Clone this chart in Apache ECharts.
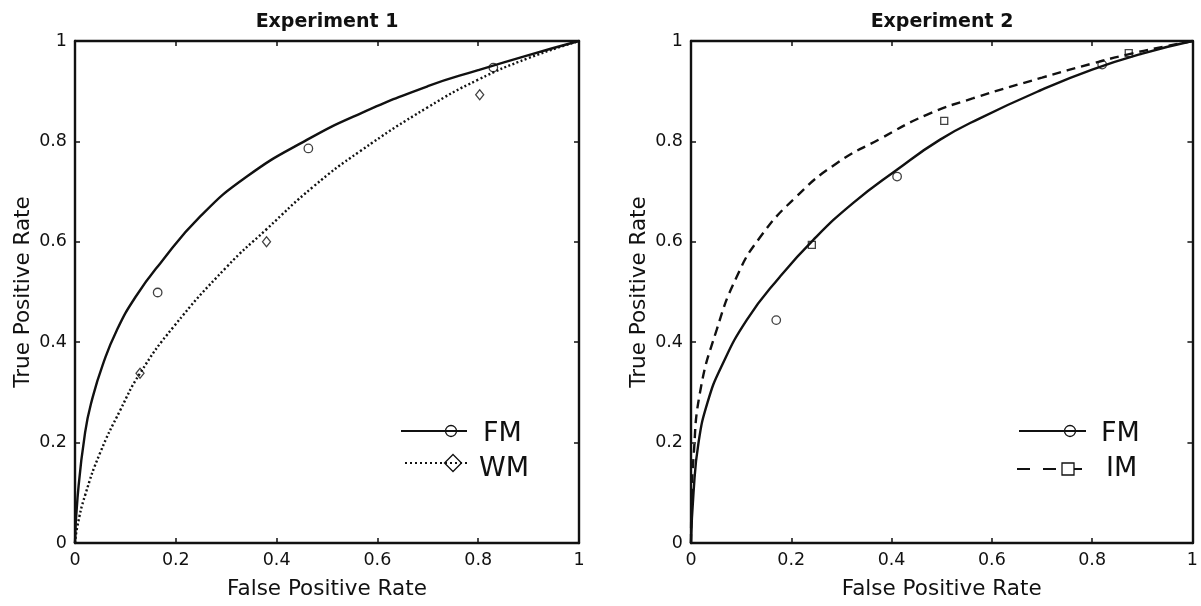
<!DOCTYPE html>
<html>
<head>
<meta charset="utf-8">
<title>ROC curves</title>
<script src="https://cdn.jsdelivr.net/npm/echarts@6/dist/echarts.min.js"></script>
<style>
  html, body { margin: 0; padding: 0; background: #fff; }
  #chart { width: 1201px; height: 606px; }
</style>
</head>
<body>
<div id="chart"></div>
<script>
// ticks shared by both panels
const tickValues = [0, 0.2, 0.4, 0.6, 0.8, 1]
const tickLabels = ['0', '0.2', '0.4', '0.6', '0.8', '1']

const panelTitles = ['Experiment 1', 'Experiment 2']

// Experiment 1 - fitted ROC curves
const exp1FmCurveX = [0, 0.005, 0.02, 0.035, 0.055, 0.083, 0.12, 0.169, 0.248, 0.341, 0.46, 0.565, 0.7, 0.8, 0.9, 1]
const exp1FmCurveY = [0, 0.09, 0.22, 0.29, 0.355, 0.424, 0.49, 0.557, 0.65, 0.73, 0.803, 0.855, 0.91, 0.942, 0.972, 1]
const exp1WmCurveX = [0, 0.005, 0.02, 0.05, 0.09, 0.129, 0.195, 0.301, 0.38, 0.473, 0.565, 0.7, 0.8, 0.9, 1]
const exp1WmCurveY = [0, 0.035, 0.095, 0.18, 0.265, 0.338, 0.43, 0.55, 0.625, 0.71, 0.78, 0.868, 0.923, 0.966, 1]

// Experiment 1 - observed points
const exp1FmPointsX = [0.164, 0.463, 0.830]
const exp1FmPointsY = [0.499, 0.786, 0.947]
const exp1WmPointsX = [0.129, 0.380, 0.803]
const exp1WmPointsY = [0.338, 0.600, 0.893]

// Experiment 2 - fitted ROC curves
const exp2FmCurveX = [0, 0.005, 0.015, 0.033, 0.06, 0.111, 0.177, 0.244, 0.323, 0.41, 0.496, 0.576, 0.7, 0.8, 0.9, 1]
const exp2FmCurveY = [0, 0.1, 0.2, 0.28, 0.35, 0.444, 0.53, 0.604, 0.677, 0.743, 0.803, 0.846, 0.903, 0.943, 0.975, 1]
const exp2ImCurveX = [0, 0.001, 0.005, 0.018, 0.051, 0.091, 0.137, 0.21, 0.29, 0.377, 0.47, 0.563, 0.7, 0.8, 0.87, 0.95, 1]
const exp2ImCurveY = [0, 0.075, 0.17, 0.3, 0.424, 0.53, 0.608, 0.69, 0.756, 0.805, 0.853, 0.886, 0.927, 0.955, 0.973, 0.99, 1]

// Experiment 2 - observed points
const exp2FmPointsX = [0.170, 0.411, 0.820]
const exp2FmPointsY = [0.444, 0.730, 0.953]
const exp2ImPointsX = [0.241, 0.505, 0.873]
const exp2ImPointsY = [0.594, 0.841, 0.976]

const FONT = 'DejaVu Sans'
const INK = '#111'

const grids = [
  { left: 75, top: 41, width: 504, height: 502 },
  { left: 691, top: 41, width: 502, height: 502 }
]

const pairs = (xs, ys) => xs.map((x, i) => [x, ys[i]])

const tickFormatter = v => {
  const i = tickValues.findIndex(t => Math.abs(t - v) < 1e-9)
  return i >= 0 ? tickLabels[i] : ''
}

// main axes carry labels, mirror axes only draw the frame + inward ticks
const makeAxis = (dim, gridIndex, position, main) => ({
  type: 'value',
  gridIndex,
  position,
  min: 0,
  max: 1,
  interval: 0.2,
  name: main ? (dim === 'x' ? 'False Positive Rate' : 'True Positive Rate') : '',
  nameLocation: 'middle',
  nameGap: dim === 'x' ? 35 : 41,
  nameTextStyle: { fontFamily: FONT, fontSize: 21.5, color: INK },
  axisLine: { show: true, onZero: false, lineStyle: { color: INK, width: 2.4 } },
  axisTick: { show: true, inside: true, length: 5, lineStyle: { color: INK, width: 1.5 } },
  axisLabel: {
    show: main,
    fontFamily: FONT,
    fontSize: 17.5,
    color: INK,
    margin: 8,
    formatter: tickFormatter
  },
  splitLine: { show: false }
})

const xAxes = [], yAxes = []
grids.forEach((g, i) => {
  xAxes.push(makeAxis('x', i, 'bottom', true), makeAxis('x', i, 'top', false))
  yAxes.push(makeAxis('y', i, 'left', true), makeAxis('y', i, 'right', false))
})

const curve = (name, xs, ys, gi, type) => ({
  name,
  type: 'line',
  xAxisIndex: gi * 2,
  yAxisIndex: gi * 2,
  data: pairs(xs, ys),
  showSymbol: false,
  smooth: 0.5,
  silent: true,
  lineStyle: { color: INK, width: 2.4, type, cap: 'butt' },
  z: 2
})

const points = (name, xs, ys, gi, symbol, size) => ({
  name,
  type: 'scatter',
  xAxisIndex: gi * 2,
  yAxisIndex: gi * 2,
  data: pairs(xs, ys),
  symbol,
  symbolSize: size,
  itemStyle: { color: 'rgba(255,255,255,0)', borderColor: INK, borderWidth: 1.3 },
  z: 3
})

const series = [
  curve('FM', exp1FmCurveX, exp1FmCurveY, 0, 'solid'),
  curve('WM', exp1WmCurveX, exp1WmCurveY, 0, [2, 2.4]),
  points('FM data', exp1FmPointsX, exp1FmPointsY, 0, 'circle', 8.5),
  points('WM data', exp1WmPointsX, exp1WmPointsY, 0, 'diamond', [8, 10]),
  curve('FM', exp2FmCurveX, exp2FmCurveY, 1, 'solid'),
  curve('IM', exp2ImCurveX, exp2ImCurveY, 1, [9, 6]),
  points('FM data', exp2FmPointsX, exp2FmPointsY, 1, 'circle', 8.5),
  points('IM data', exp2ImPointsX, exp2ImPointsY, 1, 'rect', 7)
]

// MATLAB-style legends: line sample with the marker near its right end
const legendText = (text, x, y) => ({
  type: 'text', x, y,
  style: { text, font: '27px "' + FONT + '"', fill: INK, verticalAlign: 'middle' }
})
const legendLine = (x1, x2, y, dash) => ({
  type: 'line',
  shape: { x1, y1: y, x2, y2: y },
  style: { stroke: INK, lineWidth: 2, lineDash: dash }
})

const graphic = [
  // Experiment 1
  legendLine(401, 467, 431, null),
  { type: 'circle', shape: { cx: 451, cy: 431, r: 5.5 }, style: { fill: 'none', stroke: INK, lineWidth: 1.3 } },
  legendText('FM', 483, 434),
  legendLine(405, 467, 463, [2, 3]),
  { type: 'polygon', shape: { points: [[453, 454.5], [461.5, 463], [453, 471.5], [444.5, 463]] }, style: { fill: 'none', stroke: INK, lineWidth: 1.3 } },
  legendText('WM', 479, 469),
  // Experiment 2
  legendLine(1019, 1086, 431, null),
  { type: 'circle', shape: { cx: 1070, cy: 431, r: 5.5 }, style: { fill: 'none', stroke: INK, lineWidth: 1.3 } },
  legendText('FM', 1101, 434),
  legendLine(1017, 1082, 469, [13, 13]),
  { type: 'rect', shape: { x: 1062, y: 463, width: 12, height: 12 }, style: { fill: '#fff', stroke: INK, lineWidth: 1.3 }, z: 10 },
  legendText('IM', 1106, 469)
]

const chart = echarts.init(document.getElementById('chart'), null, { renderer: 'canvas' })
chart.setOption({
  backgroundColor: '#fff',
  animation: false,
  title: panelTitles.map((text, i) => ({
    text,
    left: grids[i].left + grids[i].width / 2,
    top: 13,
    textAlign: 'center',
    padding: 0,
    textStyle: { fontFamily: FONT, fontSize: 19, fontWeight: 'bold', color: INK }
  })),
  grid: grids,
  xAxis: xAxes,
  yAxis: yAxes,
  series,
  graphic
})
</script>
</body>
</html>
